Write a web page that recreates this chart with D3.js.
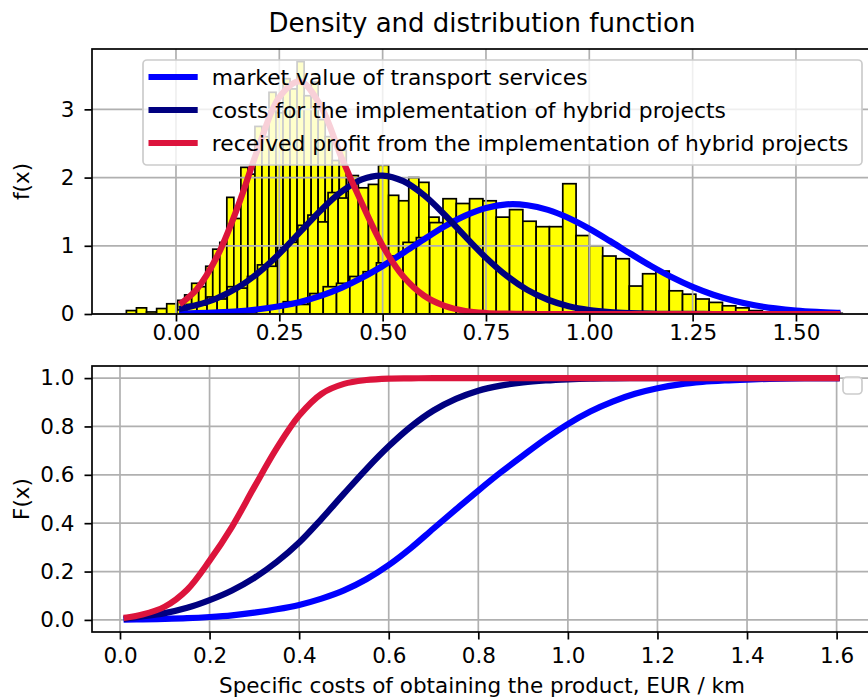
<!DOCTYPE html>
<html>
<head>
<meta charset="utf-8">
<script src="https://cdn.jsdelivr.net/npm/d3@7"></script>
<style>
  body { margin: 0; background: #fff; }
  text { font-family: "DejaVu Sans", sans-serif; fill: #000; }
</style>
</head>
<body>
<div id="chart"></div>
<script>
// ---- data ----
const seriesLabels = [
  "market value of transport services",
  "costs for the implementation of hybrid projects",
  "received profit from the implementation of hybrid projects"
];

// x positions where the curves were read
const xGrid = [0.015, 0.05, 0.10, 0.15, 0.20, 0.25, 0.30, 0.35, 0.40, 0.45, 0.50,
  0.55, 0.60, 0.65, 0.70, 0.75, 0.80, 0.85, 0.90, 0.95, 1.00, 1.05, 1.10, 1.15,
  1.20, 1.25, 1.30, 1.35, 1.40, 1.45, 1.50, 1.55, 1.60];

// density curves f(x)
const marketDensity = [0.008, 0.012, 0.023, 0.040, 0.069, 0.113, 0.177, 0.266, 0.383,
  0.531, 0.704, 0.897, 1.095, 1.284, 1.442, 1.554, 1.607, 1.595, 1.526, 1.407, 1.250,
  1.070, 0.883, 0.702, 0.538, 0.397, 0.283, 0.194, 0.128, 0.082, 0.050, 0.030, 0.017];
const costsDensity = [0.082, 0.131, 0.234, 0.390, 0.608, 0.884, 1.199, 1.517, 1.791,
  1.974, 2.029, 1.947, 1.742, 1.455, 1.134, 0.825, 0.560, 0.354, 0.209, 0.115, 0.059,
  0.028, 0.013, 0.005, 0.002, 0.001, 0, 0, 0, 0, 0, 0, 0];
const profitDensity = [0.17, 0.36, 0.85, 1.58, 2.45, 3.18, 3.41, 3.05, 2.30, 1.62, 1.00,
  0.55, 0.27, 0.12, 0.045, 0.015, 0.005, 0.001, 0, 0, 0, 0, 0, 0, 0, 0, 0, 0, 0, 0, 0, 0, 0];

// distribution curves F(x)
const marketCdf = [0.001, 0.002, 0.004, 0.007, 0.012, 0.019, 0.030, 0.044, 0.062, 0.088,
  0.122, 0.168, 0.227, 0.298, 0.378, 0.457, 0.535, 0.610, 0.680, 0.748, 0.810, 0.862,
  0.903, 0.935, 0.958, 0.974, 0.984, 0.990, 0.994, 0.997, 0.999, 1.0, 1.0];
const costsCdf = [0.006, 0.014, 0.028, 0.050, 0.082, 0.122, 0.174, 0.240, 0.320, 0.418,
  0.522, 0.624, 0.718, 0.800, 0.866, 0.914, 0.948, 0.969, 0.982, 0.990, 0.995, 0.998,
  0.999, 1.0, 1.0, 1.0, 1.0, 1.0, 1.0, 1.0, 1.0, 1.0, 1.0];
const profitCdf = [0.010, 0.022, 0.055, 0.125, 0.245, 0.385, 0.550, 0.710, 0.845, 0.935,
  0.976, 0.992, 0.998, 0.999, 1.0, 1.0, 1.0, 1.0, 1.0, 1.0, 1.0, 1.0, 1.0, 1.0, 1.0, 1.0,
  1.0, 1.0, 1.0, 1.0, 1.0, 1.0, 1.0];

// histograms of the three samples (bin start, bin width, densities)
const profitBinStart = -0.047, profitBinWidth = 0.017;
const profitHist = [0, 0, 0.06, 0.20, 0.28, 0.45, 0.40, 0.70, 0.95, 1.05, 1.71, 1.40,
  2.15, 2.05, 2.75, 2.60, 3.25, 2.95, 3.45, 3.30, 3.70, 3.20, 3.40, 2.85, 2.60, 2.25,
  2.40, 1.80, 1.55, 1.70, 1.20, 1.05, 0.85, 0.70, 0.65, 0.45, 0.38, 0.25, 0.22, 0.15,
  0.12, 0.08, 0.06, 0.05, 0.02, 0.03, 0, 0.01, 0, 0.01];

const costsBinStart = -0.12, costsBinWidth = 0.0244;
const costsHist = [0.05, 0.09, 0.03, 0.08, 0.15, 0.06, 0.14, 0.13, 0.25, 0.22, 0.40,
  0.38, 0.55, 0.72, 0.70, 0.98, 1.05, 1.30, 1.45, 1.35, 1.78, 1.70, 2.03, 1.85, 1.90,
  2.18, 1.74, 1.66, 2.00, 1.93, 1.42, 1.30, 1.25, 1.10, 1.05, 0.80, 0.75, 0.55, 0.50,
  0.35, 0.30, 0.20, 0.18, 0.10, 0.09, 0.05, 0.06, 0.02, 0.04, 0.02];

const marketBinStart = 0.002, marketBinWidth = 0.0322;
const marketHist = [0, 0.03, 0, 0.03, 0.06, 0.03, 0.09, 0.12, 0.18, 0.14, 0.30, 0.40,
  0.45, 0.55, 0.62, 0.75, 0.85, 1.05, 1.12, 1.34, 1.69, 1.62, 1.69, 1.66, 1.42, 1.53,
  1.36, 1.28, 1.28, 1.91, 1.15, 1.00, 0.85, 0.81, 0.41, 0.59, 0.63, 0.34, 0.29, 0.22,
  0.17, 0.12, 0.09, 0.05, 0.03, 0.02, 0.02, 0.01, 0, 0.01];

// tick values
const topXTicks = [0, 0.25, 0.5, 0.75, 1.0, 1.25, 1.5];
const topYTicks = [0, 1, 2, 3];
const bottomXTicks = [0, 0.2, 0.4, 0.6, 0.8, 1.0, 1.2, 1.4, 1.6];
const bottomYTicks = [0, 0.2, 0.4, 0.6, 0.8, 1.0];

// ---- layout ----
const width = 868, height = 698;
const fontSize = 21.5;
const tickLen = 7.5;
const curveColors = ["#0000ff", "#000080", "#dc143c"];

const svg = d3.select("#chart").append("svg")
  .attr("width", width)
  .attr("height", height);

// panel frames (right spine sits just past the visible edge)
const topPanel = { left: 92, right: 872, top: 49, bottom: 314, xPad: 3 };
const bottomPanel = { left: 92, right: 872, top: 366, bottom: 632, xPad: 8 };

const xTop = d3.scaleLinear().domain([-0.2032, 1.684]).range([topPanel.left, topPanel.right]);
const yTop = d3.scaleLinear().domain([0, 3.885]).range([topPanel.bottom, topPanel.top]);
const xBot = d3.scaleLinear().domain([-0.0625, 1.679]).range([bottomPanel.left, bottomPanel.right]);
const yBot = d3.scaleLinear().domain([-0.05, 1.05]).range([bottomPanel.bottom, bottomPanel.top]);

function clipFor(id, p) {
  svg.append("clipPath").attr("id", id).append("rect")
    .attr("x", p.left).attr("y", p.top)
    .attr("width", p.right - p.left).attr("height", p.bottom - p.top);
}
clipFor("clipTop", topPanel);
clipFor("clipBot", bottomPanel);

function drawGrid(p, xs, ys, xTicks, yTicks) {
  const g = svg.append("g").attr("class", "grid");
  g.selectAll("line.gx").data(xTicks).join("line")
    .attr("x1", (d) => xs(d)).attr("x2", (d) => xs(d))
    .attr("y1", p.top).attr("y2", p.bottom)
    .attr("stroke", "#b0b0b0").attr("stroke-width", 1.7);
  g.selectAll("line.gy").data(yTicks).join("line")
    .attr("x1", p.left).attr("x2", p.right)
    .attr("y1", (d) => ys(d)).attr("y2", (d) => ys(d))
    .attr("stroke", "#b0b0b0").attr("stroke-width", 1.7);
}

function drawAxes(p, xs, ys, xTicks, yTicks, xFmt, yFmt) {
  const gx = svg.append("g")
    .attr("transform", `translate(0, ${p.bottom})`)
    .call(d3.axisBottom(xs).tickValues(xTicks).tickFormat(d3.format(xFmt))
      .tickSize(tickLen).tickPadding(p.xPad));
  const gy = svg.append("g")
    .attr("transform", `translate(${p.left}, 0)`)
    .call(d3.axisLeft(ys).tickValues(yTicks).tickFormat(d3.format(yFmt))
      .tickSize(tickLen).tickPadding(10));
  [gx, gy].forEach((g) => {
    g.select(".domain").remove();
    g.selectAll(".tick line").attr("stroke", "#000").attr("stroke-width", 1.7);
    g.selectAll(".tick text").style("font-size", fontSize + "px")
      .style("font-family", '"DejaVu Sans", sans-serif').attr("fill", "#000");
  });
  // frame
  svg.append("rect")
    .attr("x", p.left).attr("y", p.top)
    .attr("width", p.right - p.left).attr("height", p.bottom - p.top)
    .attr("fill", "none").attr("stroke", "#000").attr("stroke-width", 1.7);
}

function drawHist(values, start, binW) {
  svg.append("g").attr("clip-path", "url(#clipTop)")
    .selectAll("rect").data(values).join("rect")
    .attr("x", (d, i) => xTop(start + i * binW))
    .attr("width", (d, i) => xTop(start + (i + 1) * binW) - xTop(start + i * binW))
    .attr("y", (d) => yTop(d))
    .attr("height", (d) => yTop(0) - yTop(d))
    .attr("fill", "#ffff00")
    .attr("stroke", "#000")
    .attr("stroke-width", 1.7);
}

function drawCurve(values, xs, ys, color, clipId) {
  const line = d3.line()
    .x((d, i) => xs(xGrid[i]))
    .y((d) => ys(d))
    .curve(d3.curveCatmullRom.alpha(0.5));
  svg.append("path")
    .datum(values)
    .attr("clip-path", `url(#${clipId})`)
    .attr("fill", "none")
    .attr("stroke", color)
    .attr("stroke-width", 6.2)
    .attr("stroke-linecap", "square")
    .attr("stroke-linejoin", "round")
    .attr("d", line);
}

// ---- top panel: histogram + densities ----
drawHist(profitHist, profitBinStart, profitBinWidth);
drawHist(costsHist, costsBinStart, costsBinWidth);
drawHist(marketHist, marketBinStart, marketBinWidth);
drawGrid(topPanel, xTop, yTop, topXTicks, topYTicks);
[marketDensity, costsDensity, profitDensity].forEach((vals, k) =>
  drawCurve(vals, xTop, yTop, curveColors[k], "clipTop"));

// legend
const legend = svg.append("g");
legend.append("rect")
  .attr("x", 143).attr("y", 60).attr("width", 719).attr("height", 105)
  .attr("rx", 4).attr("fill", "#fff").attr("fill-opacity", 0.8)
  .attr("stroke", "#cccccc").attr("stroke-width", 1.7);
seriesLabels.forEach((label, k) => {
  const ry = 77 + k * 33;
  legend.append("line")
    .attr("x1", 151.6).attr("x2", 194.6).attr("y1", ry).attr("y2", ry)
    .attr("stroke", curveColors[k]).attr("stroke-width", 6.2)
    .attr("stroke-linecap", "square");
  legend.append("text")
    .attr("x", 211.8).attr("y", ry + 7.5)
    .style("font-size", "21.8px")
    .text(label);
});

drawAxes(topPanel, xTop, yTop, topXTicks, topYTicks, ".2f", "d");

// ---- bottom panel: distribution functions ----
drawGrid(bottomPanel, xBot, yBot, bottomXTicks, bottomYTicks);
[marketCdf, costsCdf, profitCdf].forEach((vals, k) =>
  drawCurve(vals, xBot, yBot, curveColors[k], "clipBot"));

// empty legend box, upper right
svg.append("rect")
  .attr("x", 843).attr("y", 377).attr("width", 19).attr("height", 17)
  .attr("rx", 4).attr("fill", "#fff").attr("fill-opacity", 0.8)
  .attr("stroke", "#cccccc").attr("stroke-width", 1.7);

drawAxes(bottomPanel, xBot, yBot, bottomXTicks, bottomYTicks, ".1f", ".1f");

// ---- titles and labels ----
const midX = (topPanel.left + topPanel.right) / 2;
svg.append("text")
  .attr("x", midX).attr("y", 32)
  .attr("text-anchor", "middle")
  .style("font-size", "26px")
  .text("Density and distribution function");

svg.append("text")
  .attr("transform", `translate(29, ${(topPanel.top + topPanel.bottom) / 2}) rotate(-90)`)
  .attr("text-anchor", "middle")
  .style("font-size", fontSize + "px")
  .text("f(x)");

svg.append("text")
  .attr("transform", `translate(29, ${(bottomPanel.top + bottomPanel.bottom) / 2}) rotate(-90)`)
  .attr("text-anchor", "middle")
  .style("font-size", fontSize + "px")
  .text("F(x)");

svg.append("text")
  .attr("x", midX).attr("y", 693)
  .attr("text-anchor", "middle")
  .style("font-size", fontSize + "px")
  .text("Specific costs of obtaining the product, EUR / km");
</script>
</body>
</html>
